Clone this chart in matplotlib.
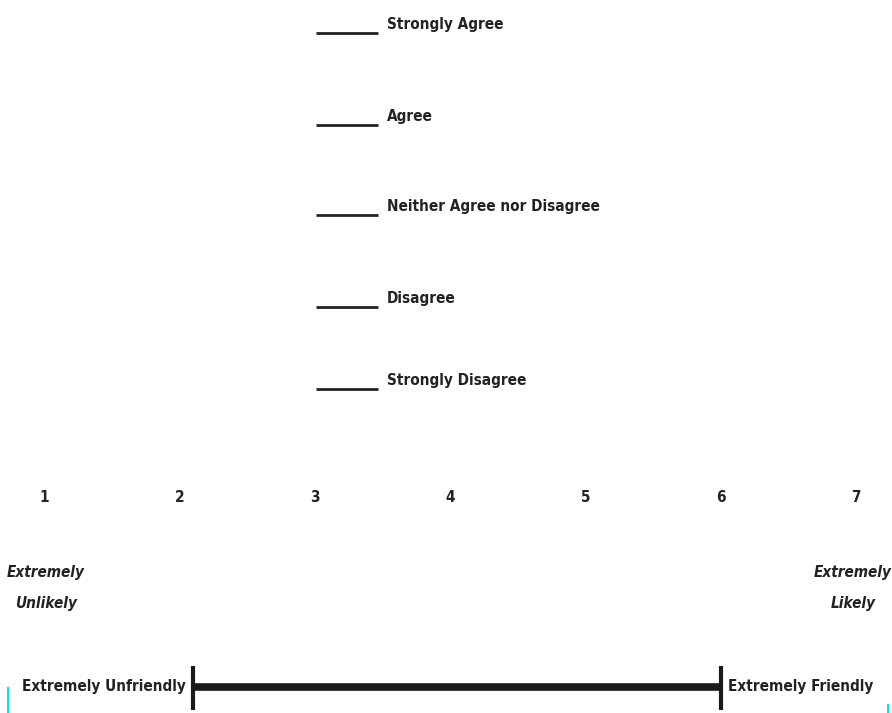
import matplotlib.pyplot as plt

# likert options, top to bottom
options = ['Strongly Agree', 'Agree', 'Neither Agree nor Disagree', 'Disagree', 'Strongly Disagree']
option_rows = [33, 125, 215, 307, 389]

# numeric rating scale
scale_points = [1, 2, 3, 4, 5, 6, 7]
scale_anchors = ['Extremely\nUnlikely', 'Extremely\nLikely']

# semantic differential
sd_labels = ['Extremely Unfriendly', 'Extremely Friendly']
sd_ends = [2.1, 6.0]

fam = ['DejaVu Sans']
txt = dict(family=fam, fontweight='bold', fontstretch='condensed', fontsize=11,
           color='#222222')

fig = plt.figure(figsize=(8.92, 7.13), dpi=100)
ax = fig.add_axes([0, 0, 1, 1])
# x in scale units (1 at 44px, 7 at 856px), y in pixels from the top
u = (856 - 44) / 6
ax.set_xlim(1 - 44 / u, 7 + 36 / u)
ax.set_ylim(713, 0)
ax.axis('off')

# blank lines + option labels
for lab, y in zip(options, option_rows):
    ax.plot([3.01, 3.47], [y, y], color='#222222', lw=2, solid_capstyle='butt')
    ax.text(3.535, y - 9, lab, ha='left', va='center', **txt)

# 1..7 scale
for p in scale_points:
    ax.text(p, 497, str(p), ha='center', va='center', **txt)
ax.text(1.0 + 2 / u, 588, scale_anchors[0], style='italic', ha='center', va='center',
        linespacing=2.3, **txt)
ax.text(7.0 - 3 / u, 588, scale_anchors[1], style='italic', ha='center', va='center',
        linespacing=2.3, **txt)

# bar with end caps
ax.plot(sd_ends, [687, 687], color='#1a1a1a', lw=5.5, solid_capstyle='butt')
for xe in sd_ends:
    ax.plot([xe, xe], [666, 710], color='#1a1a1a', lw=3, solid_capstyle='butt')
ax.text(sd_ends[0] - 7 / u, 687, sd_labels[0], ha='right', va='center', **txt)
ax.text(sd_ends[1] + 7 / u, 687, sd_labels[1], ha='left', va='center', **txt)

# small cyan marks at the bottom edge
ax.plot([1 - 36 / u, 1 - 36 / u], [688, 713], color='#00e5ff', lw=1.5)
ax.plot([7 + 32 / u, 7 + 32 / u], [705, 713], color='#00e5ff', lw=1.5)

fig.savefig('out.png', dpi=100)
